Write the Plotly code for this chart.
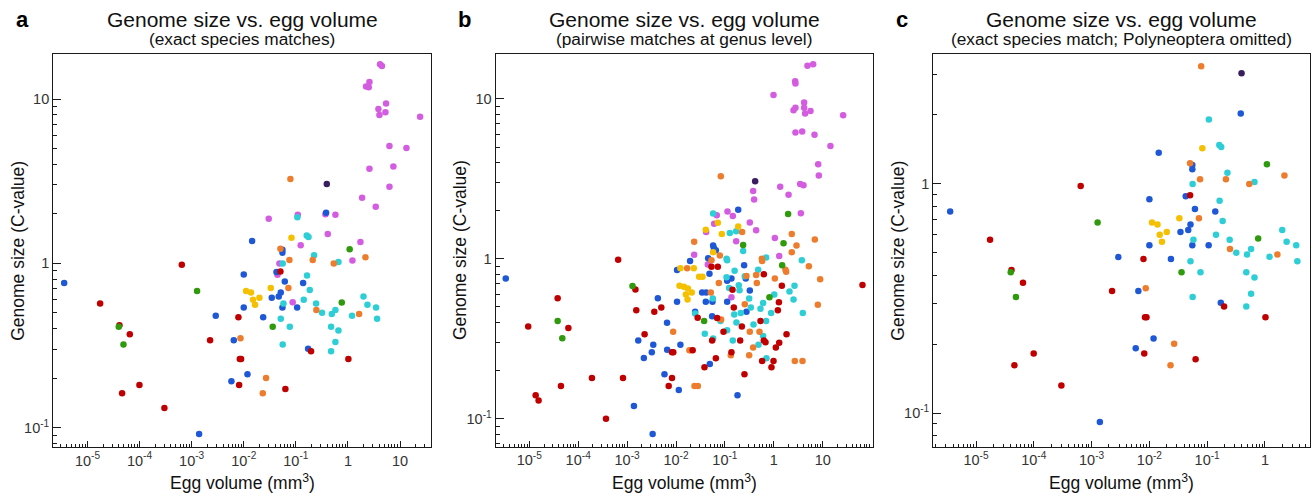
import math
import plotly.graph_objects as go

W, H = 1315, 496

# ---------------- data (egg volume mm^3, genome size C-value) ----------------
a_magenta = [(4.14,16.3),(4.5,15.9),(2.23,11.9),(2.59,12.7),(2.51,11.8),(5.4,9.4),(3.85,8.7),(4.03,8.0),
             (5.25,8.3),(24.3,7.8),(6.27,5.18),(13.3,5.03),(2.59,3.77),(7.46,3.88),(6.27,2.93),(1.87,2.51),
             (3.42,2.21),(0.0302,1.87),(0.109,1.98),(0.37,1.99),(0.575,1.98),(0.41,1.51),(0.124,1.29),
             (1.74,1.35),(0.0484,1.0),(1.22,1.04),(0.0444,0.853),(0.087,0.58)]
a_purple = [(0.393,3.04)]
a_blue = [(0.0145,1.37),(0.381,2.03),(0.0553,1.21),(0.0553,1.16),(0.0425,0.885),(0.01,0.857),(3.57e-6,0.759),
          (0.0614,0.777),(0.138,0.759),(0.0514,0.666),(0.047,0.63),(0.0345,0.618),(0.01,0.54),(0.0553,0.54),
          (0.106,0.54),(0.0029,0.48),(0.0236,0.471),(0.00644,0.341),(0.172,0.303),(0.0118,0.212),
          (0.0058,0.192),(0.00139,0.0915)]
a_cyan = [(0.107,1.91),(0.162,1.48),(0.175,1.45),(0.224,1.12),(0.056,1.0),(0.658,1.02),(0.164,0.845),
          (0.185,0.689),(1.99,0.63),(0.142,0.601),(0.0578,0.571),(0.245,0.571),(2.37,0.56),(3.47,0.54),
          (0.575,0.52),(0.319,0.501),(0.49,0.492),(1.2,0.481),(0.0514,0.46),(3.63,0.46),(0.0766,0.412),
          (0.475,0.412),(0.658,0.391),(0.575,0.332),(0.056,0.321),(0.475,0.292)]
a_orange = [(0.0787,3.26),(0.0506,1.23),(0.0753,1.05),(0.211,1.05),(0.535,1.0),(2.17,1.09),(0.072,0.708),
            (0.248,0.52),(1.64,0.492),(0.00865,0.351),(0.0268,0.201),(0.0232,0.162)]
a_yellow = [(0.0824,1.43),(0.033,0.708),(0.0111,0.679),(0.0138,0.666),(0.02,0.618),(0.0151,0.601),(0.0165,0.56)]
a_red = [(0.000647,0.98),(0.0506,0.894),(1.75e-5,0.571),(4.11e-5,0.421),(6.5e-5,0.371),(0.0079,0.471),
         (0.00226,0.341),(0.0084,0.262),(0.0089,0.262),(0.196,0.292),(1.02,0.262),(9.95e-5,0.182),
         (4.62e-5,0.162),(0.00815,0.182),(0.063,0.172),(0.0003,0.132)]
a_green = [(1.08,1.22),(0.00127,0.679),(0.762,0.579),(3.99e-5,0.412),(4.91e-5,0.321),(0.036,0.412)]

b_magenta = [(6.37,16.5),(4.88,16.1),(2.73,12.9),(2.77,12.5),(0.985,10.6),(4.17,9.5),(4.17,8.8),(2.77,8.8),
             (2.53,8.5),(5.62,8.4),(4.37,8.1),(26.2,7.9),(2.77,6.16),(3.8,6.25),(6.79,5.98),(14.4,5.08),
             (8.07,3.9),(8.32,3.32),(3.46,2.94),(4.04,2.89),(1.35,2.82),(2.0,2.52),(0.378,2.66),(0.396,2.35),
             (3.57,1.93),(0.113,1.98),(0.145,1.85),(0.0682,1.87),(0.323,1.69),(0.435,1.51),(0.0602,1.66),
             (0.0413,1.47),(0.17,1.29),(1.05,1.35),(1.29,1.04),(0.0235,1.06),(0.0447,0.922),(0.136,0.576)]
b_purple = [(0.415,3.06)]
b_orange = [(0.0824,3.29),(0.225,1.47),(0.0235,1.28),(2.33,1.43),(2.91,1.21),(2.33,1.1),(6.89,1.32),
            (0.0787,1.05),(0.569,1.0),(0.577,0.97),(0.0531,0.98),(0.0169,0.874),(5.2,0.9),(1.73,0.853),
            (1.79,0.829),(0.435,0.791),(8.86,0.746),(0.276,0.78),(1.05,0.753),(0.075,0.705),(0.0515,0.616),
            (0.449,0.705),(7.94,0.516),(0.255,0.519),(0.00874,0.35),(0.0188,0.268),(0.0198,0.268),
            (0.0239,0.16),(0.0279,0.16),(0.0837,0.418),(0.132,0.249),(0.323,0.35),(0.378,0.279),
            (0.313,0.249),(0.509,0.35),(2.69,0.23),(3.86,0.23)]
b_blue = [(0.187,2.03),(0.0574,1.21),(0.0593,1.17),(0.0652,1.13),(0.0454,1.01),(0.0194,0.97),(0.0105,0.85),
          (0.247,0.912),(0.0483,0.806),(0.136,0.753),(0.111,0.728),(0.267,0.753),(0.0105,0.538),
          (0.0342,0.616),(0.0413,0.616),(0.0406,0.538),(0.0557,0.538),(0.111,0.538),(0.323,0.634),
          (0.276,0.466),(3.3e-6,0.753),(1.38e-3,0.12),(3.33e-3,0.0802),(4.25e-3,0.567),(6.55e-3,0.398),
          (1.69e-3,0.309),(3.43e-3,0.29),(2.2e-3,0.24),(3.2e-3,0.26),(6.59e-3,0.27),(0.0123,0.29),
          (5.81e-3,0.19),(0.0114,0.151),(0.181,0.14),(0.0491,0.22),(0.0246,0.466),(0.0548,0.438)]
b_cyan = [(0.0574,1.92),(0.126,1.45),(0.17,1.49),(0.236,1.12),(0.108,1.0),(0.697,1.02),(3.74,0.981),
          (0.111,0.98),(0.158,0.841),(0.108,0.768),(0.255,0.779),(0.478,0.853),(0.0566,0.565),(0.122,0.656),
          (0.192,0.684),(0.199,0.637),(2.65,0.678),(2.09,0.625),(1.02,0.599),(2.53,0.557),(0.313,0.565),
          (0.605,0.529),(0.339,0.497),(0.534,0.487),(3.92,0.459),(0.881,0.459),(0.211,0.459),(0.155,0.449),
          (0.0246,0.455),(0.0388,0.34),(0.0574,0.318),(0.0811,0.408),(0.111,0.358),(0.145,0.309),
          (0.172,0.4),(0.384,0.389),(0.697,0.408),(0.605,0.329),(0.486,0.29),(0.708,0.239)]
b_yellow = [(0.0716,1.68),(0.0406,1.52),(0.187,1.59),(0.0864,1.43),(0.0574,1.1),(0.0123,0.874),(0.0231,0.874),
            (0.0297,0.772),(0.0348,0.772),(0.0118,0.678),(0.0145,0.668),(0.0175,0.653),(0.0159,0.599),
            (0.021,0.616),(0.0172,0.557)]
b_red = [(6.56e-4,0.986),(0.0531,0.891),(0.0716,0.891),(0.625,0.802),(0.143,0.64),(1.46,0.678),(1.27,0.535),
         (1.21,0.477),(0.152,0.497),(3.8e-5,0.567),(9.5e-6,0.378),(6.3e-5,0.369),(4.44e-5,0.16),(1.35e-5,0.14),
         (1.55e-5,0.13),(1.91e-4,0.18),(8.24e-4,0.18),(3.7e-4,0.1),(1.54e-3,0.477),(1.48e-3,0.643),
         (2.28e-3,0.338),(3.6e-3,0.466),(5.0e-3,0.497),(8.28e-3,0.26),(8.8e-3,0.26),(8.28e-3,0.18),
         (7.08e-3,0.16),(0.0219,0.268),(0.0277,0.428),(0.0693,0.426),(0.0548,0.309),(0.0382,0.21),
         (0.0652,0.239),(0.0935,0.35),(0.136,0.26),(0.205,0.309),(0.222,0.378),(0.251,0.19),(0.534,0.408),
         (0.625,0.309),(0.676,0.301),(0.577,0.23),(0.895,0.21),(0.985,0.23),(1.1,0.279),(1.29,0.299),
         (1.82,0.338),(65,0.687)]
b_green = [(1.96,1.91),(0.236,1.22),(1.58,1.25),(1.48,0.912),(0.815,0.576),(0.00129,0.675),(3.8e-5,0.408),
           (4.73e-5,0.319),(0.0376,0.408)]

x_tick_vals = [1e-5, 1e-4, 1e-3, 1e-2, 1e-1, 1, 10]
x_tick_text = ["10<sup>-5</sup>", "10<sup>-4</sup>", "10<sup>-3</sup>", "10<sup>-2</sup>",
               "10<sup>-1</sup>", "1", "10"]
y_tick_vals = [0.1, 1, 10]
y_tick_text = ["10<sup>-1</sup>", "1", "10"]

titles = ["Genome size vs. egg volume"] * 3
subtitles = ["(exact species matches)", "(pairwise matches at genus level)",
             "(exact species match; Polyneoptera omitted)"]
letters = ["a", "b", "c"]

# ---------------- styles ----------------
COL = dict(magenta="#D45CE1", purple="#3A1D5E", blue="#1F58D6", cyan="#2DCED6",
           orange="#EE7C2D", yellow="#F4C000", red="#C00000", green="#2E9A0C")
FONT = "Liberation Sans, Arial, Helvetica, sans-serif"

panel_a = [("magenta", a_magenta), ("purple", a_purple), ("blue", a_blue), ("cyan", a_cyan),
           ("orange", a_orange), ("yellow", a_yellow), ("red", a_red), ("green", a_green)]
panel_b = [("magenta", b_magenta), ("purple", b_purple), ("blue", b_blue), ("cyan", b_cyan),
           ("orange", b_orange), ("yellow", b_yellow), ("red", b_red), ("green", b_green)]
panel_c = [g for g in panel_a if g[0] != "magenta"]

# pixel geometry of the three plot frames: (left, right), (top, bottom), log ranges
geom = [
    dict(px=(53.3, 431.0), py=(54.0, 447.0), xr=(-5.656, 1.595), yr=(-1.117, 1.274)),
    dict(px=(495.7, 872.7), py=(54.0, 446.7), xr=(-5.687, 2.022), yr=(-1.175, 1.281)),
    dict(px=(933.3, 1310.0), py=(54.0, 446.7), xr=(-5.739, 0.779), yr=(-1.146, 0.567)),
]

fig = go.Figure()

def minor_vals(lo, hi):
    vals = []
    for k in range(-7, 3):
        for m in range(2, 10):
            v = m * 10.0 ** k
            if 10 ** lo < v < 10 ** hi:
                vals.append(v)
    return vals

annotations = []
for i, (groups, g) in enumerate(zip([panel_a, panel_b, panel_c], geom)):
    xa = "x" if i == 0 else f"x{i+1}"
    ya = "y" if i == 0 else f"y{i+1}"
    for name, pts in groups:
        fig.add_trace(go.Scatter(
            x=[p[0] for p in pts], y=[p[1] for p in pts], mode="markers",
            marker=dict(size=6.5, color=COL[name], line=dict(width=0)),
            xaxis=xa, yaxis=ya, showlegend=False, hoverinfo="skip"))
    xkey = "xaxis" if i == 0 else f"xaxis{i+1}"
    ykey = "yaxis" if i == 0 else f"yaxis{i+1}"
    xv = [(v, t) for v, t in zip(x_tick_vals, x_tick_text) if g["xr"][0] <= math.log10(v) <= g["xr"][1]]
    yv = [(v, t) for v, t in zip(y_tick_vals, y_tick_text) if g["yr"][0] <= math.log10(v) <= g["yr"][1]]
    common = dict(type="log", showgrid=False, zeroline=False, showline=True, mirror=True,
                  linecolor="#1a1a1a", linewidth=1.3, ticks="inside", tickcolor="#1a1a1a",
                  tickwidth=1.2, automargin=False, tickmode="array",
                  tickfont=dict(family=FONT, size=14.5, color="#333333"))
    fig.layout[xkey] = dict(common,
        domain=[g["px"][0] / W, g["px"][1] / W], range=list(g["xr"]), anchor=ya,
        tickvals=[v for v, _ in xv], ticktext=[t for _, t in xv], ticklen=6,
        minor=dict(ticks="inside", ticklen=3, tickcolor="#1a1a1a", tickwidth=1,
                   tickmode="array", tickvals=minor_vals(*g["xr"]), showgrid=False))
    fig.layout[ykey] = dict(common,
        domain=[1 - g["py"][1] / H, 1 - g["py"][0] / H], range=list(g["yr"]), anchor=xa,
        tickvals=[v for v, _ in yv], ticktext=[t for _, t in yv], ticklen=8,
        minor=dict(ticks="inside", ticklen=4, tickcolor="#1a1a1a", tickwidth=1,
                   tickmode="array", tickvals=minor_vals(*g["yr"]), showgrid=False))
    cx = (g["px"][0] + g["px"][1]) / 2
    cy = (g["py"][0] + g["py"][1]) / 2
    annotations += [
        dict(text=titles[i], x=cx / W, y=1 - 19 / H, xref="paper", yref="paper",
             xanchor="center", yanchor="middle", showarrow=False,
             font=dict(family=FONT, size=21, color="#111111")),
        dict(text=subtitles[i], x=cx / W, y=1 - 38.5 / H, xref="paper", yref="paper",
             xanchor="center", yanchor="middle", showarrow=False,
             font=dict(family=FONT, size=17.3, color="#111111")),
        dict(text="<b>" + letters[i] + "</b>", x=(g["px"][0] - 31) / W, y=1 - 20 / H,
             xref="paper", yref="paper", xanchor="center", yanchor="middle", showarrow=False,
             font=dict(family=FONT, size=22, color="#000000")),
        dict(text="Egg volume (mm<sup>3</sup>)", x=cx / W, y=1 - 482 / H, xref="paper", yref="paper",
             xanchor="center", yanchor="middle", showarrow=False,
             font=dict(family=FONT, size=17.5, color="#111111")),
        dict(text="Genome size (C-value)", x=(g["px"][0] - 35) / W, y=1 - cy / H,
             xref="paper", yref="paper", xanchor="center", yanchor="middle", showarrow=False,
             textangle=-90, font=dict(family=FONT, size=17.5, color="#111111")),
    ]

fig.update_layout(width=W, height=H, margin=dict(l=0, r=0, t=0, b=0, autoexpand=False),
                  paper_bgcolor="white", plot_bgcolor="white", annotations=annotations,
                  showlegend=False)

fig.write_html("out.html")
